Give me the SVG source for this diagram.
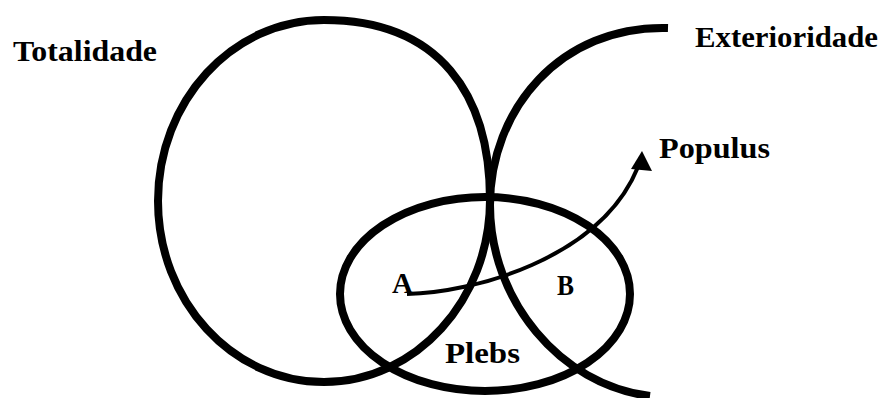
<svg xmlns="http://www.w3.org/2000/svg" width="883" height="398" viewBox="0 0 883 398">
<style>
.shape{fill:none;stroke:#000;stroke-width:8;stroke-linecap:butt}
.arrow{fill:none;stroke:#000;stroke-width:4}
.lbl{font-family:"Liberation Serif","Times New Roman",serif;font-weight:bold;font-size:29px;fill:#000}
</style>
<rect width="883" height="398" fill="#fff"/>
<g id="totalidade">
<path class="shape" d="M324,20 C440,20 490,95 490,200 C490,300 415.7,382 324,382 C232.3,382 158,301 158,201 C158,101 232.3,20 324,20 Z"/>
<text class="lbl" x="13" y="61" textLength="144" lengthAdjust="spacingAndGlyphs">Totalidade</text>
</g>
<g id="exterioridade">
<path class="shape" d="M668,28 C560,25 490,110 490,205 C490,300 560,385 650,396"/>
<text class="lbl" x="695" y="47" textLength="183" lengthAdjust="spacingAndGlyphs">Exterioridade</text>
</g>
<g id="plebs">
<ellipse class="shape" cx="485" cy="294" rx="145" ry="97"/>
<text class="lbl" x="445" y="363" textLength="75" lengthAdjust="spacingAndGlyphs">Plebs</text>
</g>
<g id="a">
<text class="lbl" x="392" y="293" textLength="21" lengthAdjust="spacingAndGlyphs">A</text>
</g>
<g id="b">
<text class="lbl" x="557" y="295" textLength="17" lengthAdjust="spacingAndGlyphs">B</text>
</g>
<g id="populus">
<text class="lbl" x="659" y="158" textLength="111" lengthAdjust="spacingAndGlyphs">Populus</text>
</g>
<g id="connectors">
<path class="arrow" d="M407,294 C470,293 600,260 638,167"/>
<polygon points="642,151 631,169 652,171" fill="#000"/>
</g>
</svg>
